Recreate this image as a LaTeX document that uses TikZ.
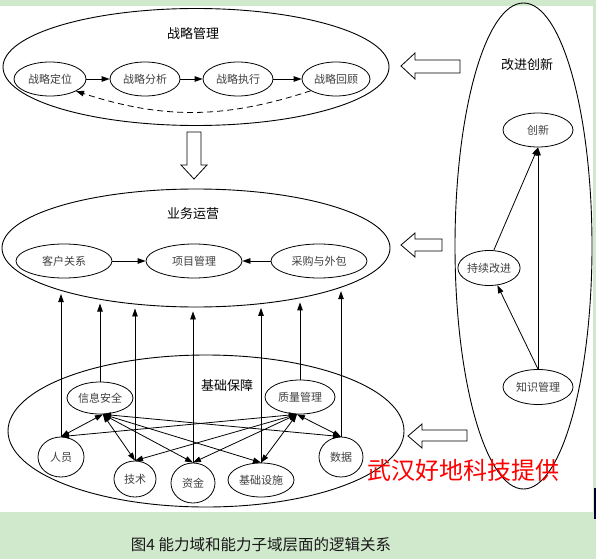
\documentclass[tikz,border=0pt]{standalone}
\usepackage{fontspec}
\usepackage{tikz}
\usetikzlibrary{shapes.geometric}
\usetikzlibrary{arrows.meta}
\newfontfamily\cjk{Noto Sans CJK SC}
\definecolor{bggreen}{RGB}{208,232,204}
\tikzset{outer/.style={draw, ellipse, inner sep=0pt, line width=0.9pt},
         sub/.style={draw, ellipse, inner sep=0pt, line width=0.8pt, text=black!75,
         font=\cjk\fontsize{11}{13}\selectfont},
         title/.style={font=\cjk\fontsize{13}{15}\selectfont},
         arr/.style={line width=0.8pt, -{Triangle[length=8pt,width=5.5pt]}},
         darr/.style={line width=0.8pt, {Triangle[length=8pt,width=5.5pt]}-{Triangle[length=8pt,width=5.5pt]}},
         hollow/.style={draw, line width=0.8pt, fill=white}}

\begin{document}
\begin{tikzpicture}[x=1pt, y=-1pt]
        \useasboundingbox (0,0) rectangle (596,559);
        \fill[bggreen] (0,0) rectangle (596,559);
        \fill[white] (0,6) rectangle (593,512);
        \fill[black!85!blue] (594,488) rectangle (596,519);

        % Strategy
        \node[outer, minimum width=386, minimum height=117] (strat) at (196,67) {};
        \node[title] (strattitle) at (193,34) {战略管理};
        \node[sub, minimum width=72, minimum height=34] (posit) at (50,79) {战略定位};
        \node[sub, minimum width=70, minimum height=34] (analy) at (145,79) {战略分析};
        \node[sub, minimum width=70, minimum height=34] (exec) at (238,79) {战略执行};
        \node[sub, minimum width=68, minimum height=34] (review) at (336,79) {战略回顾};
        \draw[arr] (posit) -- (analy);
        \draw[arr] (analy) -- (exec);
        \draw[arr] (exec) -- (review);
        \draw[arr, dash pattern=on 6pt off 4pt] (review.205) to[bend left=18] (posit.-25);

        % Operations
        \node[outer, minimum width=388, minimum height=118] (ops) at (196,248) {};
        \node[title] (opstitle) at (193,214) {业务运营};
        \node[sub, minimum width=96, minimum height=34] (cust) at (64,261) {客户关系};
        \node[sub, minimum width=96, minimum height=34] (proj) at (194,261) {项目管理};
        \node[sub, minimum width=96, minimum height=34] (purch) at (319,261) {采购与外包};
        \draw[arr] (cust) -- (proj);
        \draw[arr] (purch) -- (proj);

        % Foundation
        \node[outer, minimum width=396, minimum height=152] (base) at (206,431) {};
        \node[title] (basetitle) at (227,386) {基础保障};
        \node[sub, minimum width=66, minimum height=32] (infosec) at (100,398) {信息安全};
        \node[sub, minimum width=70, minimum height=34] (quality) at (300,397) {质量管理};
        \node[sub, minimum width=46, minimum height=40] (staff) at (61,457) {人员};
        \node[sub, minimum width=42, minimum height=36] (tech) at (135,479) {技术};
        \node[sub, minimum width=44, minimum height=40] (fund) at (193,483) {资金};
        \node[sub, minimum width=66, minimum height=34] (infra) at (261,480) {基础设施};
        \node[sub, minimum width=44, minimum height=40] (data) at (341,457) {数据};
        \foreach \t in {staff,tech,fund,infra,data} {
          \draw[darr] (infosec.-80) -- (\t.north);
          \draw[darr] (quality.-100) -- (\t.north);
        }
        \foreach \n/\a in {staff/197, infosec/208, tech/223, fund/267, infra/320, quality/334, data/345}
          \draw[arr, shorten >=4pt] (\n.north) -- (\n.north |- ops.\a);

        % Improvement and innovation
        \node[outer, minimum width=137, minimum height=486] (innov) at (523.5,246) {};
        \node[title] (innovtitle) at (527,65) {改进创新};
        \node[sub, minimum width=70, minimum height=34] (innovate) at (538,130) {创新};
        \node[sub, minimum width=62, minimum height=35] (improve) at (489,268) {持续改进};
        \node[sub, minimum width=70, minimum height=35] (knowledge) at (538,387) {知识管理};
        \draw[arr] (knowledge.north) -- (improve);
        \draw[arr] (knowledge.north) -- (innovate.south);
        \draw[arr] (improve.75) -- (innovate.south);

        % Hollow arrows
        \draw[hollow] (187,132) -- (201,132) -- (201,165) -- (207,165) -- (194,179) -- (181,165) -- (187,165) -- cycle;
        \draw[hollow] (401,66) -- (415,53) -- (415,60) -- (460,60) -- (460,73) -- (415,73) -- (415,79) -- cycle;
        \draw[hollow] (401,245) -- (415,233) -- (415,239) -- (442,239) -- (442,251) -- (415,251) -- (415,257) -- cycle;
        \draw[hollow] (408,436) -- (422,424) -- (422,430) -- (467,430) -- (467,441) -- (422,441) -- (422,448) -- cycle;

        \node[font=\cjk\fontsize{24}{28}\selectfont, text=red] (mark) at (463,470) {武汉好地科技提供};
        \node[font=\cjk\fontsize{15.5}{18}\selectfont, text=black!90] (caption) at (261,545) {图4~能力域和能力子域层面的逻辑关系};
\end{tikzpicture}
\end{document}
